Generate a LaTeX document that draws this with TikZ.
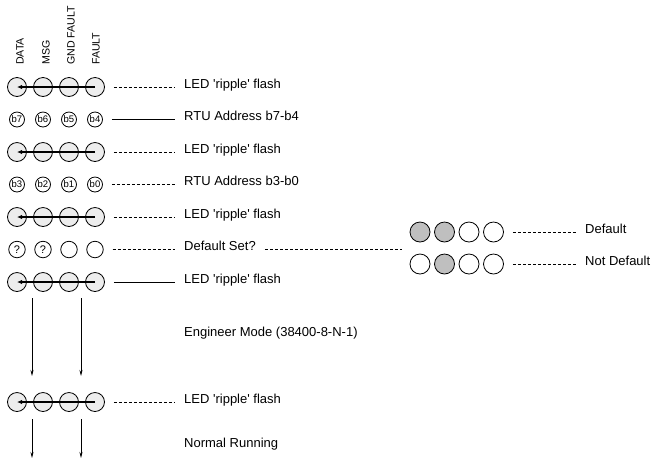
\documentclass[tikz,border=0pt]{standalone}
\usepackage{fontspec}
\setmainfont{Liberation Sans}
\usetikzlibrary{arrows.meta,positioning,calc}
\newcommand{\rippletext}{LED \textquotesingle ripple\textquotesingle{} flash}

\begin{document}
\begin{tikzpicture}[x=1pt, y=-1pt,
  every node/.style={font=\fontsize{13}{15}\selectfont},
  ledripple/.style={circle, draw, line width=0.8pt, minimum size=19pt, inner sep=0pt, fill=black!7},
  ledbit/.style={circle, draw, line width=0.8pt, minimum size=15pt, inner sep=0pt, font=\fontsize{9.5}{10}\selectfont},
  ledask/.style={circle, draw, line width=0.8pt, minimum size=16.5pt, inner sep=0pt, font=\fontsize{11}{12}\selectfont},
  ledon/.style={circle, draw, line width=0.8pt, minimum size=20pt, inner sep=0pt, fill=black!25},
  ledoff/.style={circle, draw, line width=0.8pt, minimum size=20pt, inner sep=0pt},
  colhead/.style={rotate=90, anchor=west, inner sep=0pt, font=\fontsize{10.6}{12}\selectfont},
  rowlabel/.style={anchor=base west, inner sep=0pt},
  ripple/.style={line width=1.2pt, -{Latex[length=5pt, width=4.5pt]}},
  lead/.style={line width=0.6pt, shorten <=9pt, shorten >=9pt},
  leaddash/.style={lead, dash pattern=on 3.5pt off 1.5pt},
  flow/.style={line width=0.8pt, -{Stealth[length=6pt, width=3pt]}}
]
\useasboundingbox (0,0) rectangle (655,459);

%========== column headers ==========
\node[colhead] (hdata)  at (20,65) {DATA};
\node[colhead] (hmsg)   at (46,65) {MSG};
\node[colhead] (hgnd)   at (71,65) {GND FAULT};
\node[colhead] (hfault) at (96,65) {FAULT};

%========== row 1: ripple ==========
\node[ledripple] (r1a) at (17,87) {};
\node[ledripple] (r1b) at (43,87) {};
\node[ledripple] (r1c) at (69,87) {};
\node[ledripple] (r1d) at (95,87) {};
\draw[ripple] (r1d.center) -- (r1a.center);
\node[rowlabel] (t1) at (184,88) {\rippletext};
\draw[leaddash] (r1d) -- (r1d -| t1.west);

%========== row 2: address b7-b4 ==========
\node[ledbit] (r2a) at (17,119.5) {b7};
\node[ledbit] (r2b) at (43,119.5) {b6};
\node[ledbit] (r2c) at (69,119.5) {b5};
\node[ledbit] (r2d) at (95,119.5) {b4};
\node[rowlabel] (t2) at (184,120.5) {RTU Address b7-b4};
\draw[lead] (r2d) -- (r2d -| t2.west);

%========== row 3: ripple ==========
\node[ledripple] (r3a) at (17,152) {};
\node[ledripple] (r3b) at (43,152) {};
\node[ledripple] (r3c) at (69,152) {};
\node[ledripple] (r3d) at (95,152) {};
\draw[ripple] (r3d.center) -- (r3a.center);
\node[rowlabel] (t3) at (184,153) {\rippletext};
\draw[leaddash] (r3d) -- (r3d -| t3.west);

%========== row 4: address b3-b0 ==========
\node[ledbit] (r4a) at (17,184.5) {b3};
\node[ledbit] (r4b) at (43,184.5) {b2};
\node[ledbit] (r4c) at (69,184.5) {b1};
\node[ledbit] (r4d) at (95,184.5) {b0};
\node[rowlabel] (t4) at (184,185.5) {RTU Address b3-b0};
\draw[leaddash] (r4d) -- (r4d -| t4.west);

%========== row 5: ripple ==========
\node[ledripple] (r5a) at (17,217) {};
\node[ledripple] (r5b) at (43,217) {};
\node[ledripple] (r5c) at (69,217) {};
\node[ledripple] (r5d) at (95,217) {};
\draw[ripple] (r5d.center) -- (r5a.center);
\node[rowlabel] (t5) at (184,218) {\rippletext};
\draw[leaddash] (r5d) -- (r5d -| t5.west);

%========== row 6: default set? ==========
\node[ledask] (r6a) at (17,249.5) {?};
\node[ledask] (r6b) at (43,249.5) {?};
\node[ledask] (r6c) at (69,249.5) {};
\node[ledask] (r6d) at (95,249.5) {};
\node[rowlabel] (t6) at (184,250.5) {Default Set?};
\draw[leaddash] (r6d) -- (r6d -| t6.west);

%========== default / not default ==========
\node[ledon]  (d1a) at (420,232) {};
\node[ledon]  (d1b) at (444.5,232) {};
\node[ledoff] (d1c) at (469,232) {};
\node[ledoff] (d1d) at (493.5,232) {};
\node[rowlabel] (tdef) at (585,233) {Default};
\draw[leaddash] (d1d) -- (d1d -| tdef.west);

\node[ledoff] (d2a) at (420,264) {};
\node[ledon]  (d2b) at (444.5,264) {};
\node[ledoff] (d2c) at (469,264) {};
\node[ledoff] (d2d) at (493.5,264) {};
\node[rowlabel] (tnodef) at (585,265) {Not Default};
\draw[leaddash] (d2d) -- (d2d -| tnodef.west);

\draw[leaddash, shorten >=8pt] (t6.east |- r6d) -- (d1a.west |- r6d);

%========== row 7: ripple ==========
\node[ledripple] (r7a) at (17,282) {};
\node[ledripple] (r7b) at (43,282) {};
\node[ledripple] (r7c) at (69,282) {};
\node[ledripple] (r7d) at (95,282) {};
\draw[ripple] (r7d.center) -- (r7a.center);
\node[rowlabel] (t7) at (184,283) {\rippletext};
\draw[lead] (r7d) -- (r7d -| t7.west);

%========== engineer mode ==========
\coordinate (f1s) at (32,298);
\coordinate (f1e) at (32,376);
\coordinate (f2s) at (81,298);
\coordinate (f2e) at (81,376);
\draw[flow] (f1s) -- (f1e);
\draw[flow] (f2s) -- (f2e);
\node[rowlabel] (teng) at (184,336) {Engineer Mode (38400-8-N-1)};

%========== row 8: ripple ==========
\node[ledripple] (r8a) at (17,402) {};
\node[ledripple] (r8b) at (43,402) {};
\node[ledripple] (r8c) at (69,402) {};
\node[ledripple] (r8d) at (95,402) {};
\draw[ripple] (r8d.center) -- (r8a.center);
\node[rowlabel] (t8) at (184,403) {\rippletext};
\draw[leaddash] (r8d) -- (r8d -| t8.west);

%========== normal running ==========
\coordinate (g1s) at (32,419);
\coordinate (g1e) at (32,458);
\coordinate (g2s) at (81,419);
\coordinate (g2e) at (81,458);
\draw[flow] (g1s) -- (g1e);
\draw[flow] (g2s) -- (g2e);
\node[rowlabel] (tnorm) at (184,447) {Normal Running};

\end{tikzpicture}
\end{document}
